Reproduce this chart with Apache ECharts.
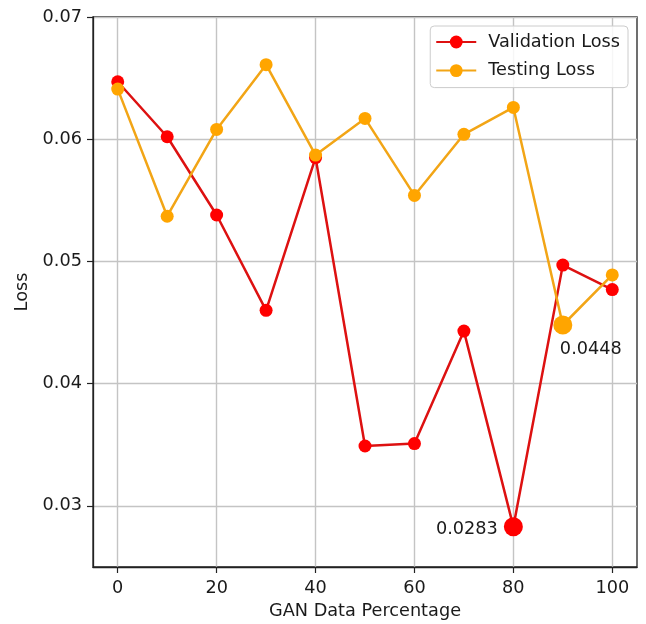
<!DOCTYPE html>
<html>
<head>
<meta charset="UTF-8">
<title>Loss</title>
<style>
  html, body { margin: 0; padding: 0; background: #fff; }
  #chart { width: 646px; height: 624px; }
</style>
</head>
<body>
<div id="chart"></div>
<script src="https://cdn.jsdelivr.net/npm/echarts@6/dist/echarts.min.js"></script>
<script>
// GAN data percentage on the x axis
var ganPercent = [0, 10, 20, 30, 40, 50, 60, 70, 80, 90, 100];
var validationLoss = [0.0647, 0.0602, 0.0538, 0.0460, 0.0585, 0.0349, 0.0351, 0.0443, 0.0283, 0.0497, 0.0477];
var testingLoss = [0.0641, 0.0537, 0.0608, 0.0661, 0.0587, 0.0617, 0.0554, 0.0604, 0.0626, 0.0448, 0.0489];
var xTicks = [0, 20, 40, 60, 80, 100];
var yTicks = [0.03, 0.04, 0.05, 0.06, 0.07];

var FONT = 'DejaVu Sans';
var FS = 17.7;
var TXT = '#1a1a1a';

function minIndex(arr) {
  var k = 0;
  for (var i = 1; i < arr.length; i++) if (arr[i] < arr[k]) k = i;
  return k;
}

// builds the points, the lowest one gets a big marker + value label
function buildData(values, labelPos, labelDist, labelOffset) {
  var k = minIndex(values);
  var res = [];
  for (var i = 0; i < values.length; i++) {
    if (i == k) {
      res.push({
        value: [ganPercent[i], values[i]],
        symbolSize: 19,
        label: {
          show: true,
          position: labelPos,
          distance: labelDist,
          offset: labelOffset,
          formatter: values[i].toFixed(4),
          fontFamily: FONT,
          fontSize: FS,
          color: TXT
        }
      });
    } else {
      res.push([ganPercent[i], values[i]]);
    }
  }
  return res;
}

var chart = echarts.init(document.getElementById('chart'));
chart.setOption({
  animation: false,
  grid: {
    left: 93, right: 9, top: 17, bottom: 57,
    show: true, borderColor: '#222', borderWidth: 1.3,
    outerBoundsMode: 'none'
  },
  legend: {
    right: 18, top: 26,
    orient: 'vertical',
    itemWidth: 40, itemHeight: 16, itemGap: 10.6,
    padding: [7, 8, 8, 5],
    backgroundColor: 'rgba(255,255,255,0.85)',
    borderColor: '#cccccc', borderWidth: 1, borderRadius: 4,
    textStyle: { fontFamily: FONT, fontSize: FS, color: TXT, padding: [0, 0, 0, 7] },
    data: ['Validation Loss', 'Testing Loss']
  },
  xAxis: {
    type: 'value',
    min: -5, max: 105,
    name: 'GAN Data Percentage',
    nameLocation: 'middle', nameGap: 34,
    nameTextStyle: { fontFamily: FONT, fontSize: FS, color: TXT },
    axisLine: { show: true, onZero: false, lineStyle: { color: '#222', width: 1.3 } },
    axisTick: { show: true, length: 6, customValues: xTicks, lineStyle: { color: '#222', width: 1.2 } },
    axisLabel: { customValues: xTicks, margin: 12, fontFamily: FONT, fontSize: FS, color: TXT },
    splitLine: { show: true, lineStyle: { color: '#c4c4c4', width: 1.4 } }
  },
  yAxis: {
    type: 'value',
    min: 0.025, max: 0.07,
    name: 'Loss',
    nameLocation: 'middle', nameGap: 62, nameRotate: 90,
    nameTextStyle: { fontFamily: FONT, fontSize: FS, color: TXT },
    axisLine: { show: true, onZero: false, lineStyle: { color: '#222', width: 1.3 } },
    axisTick: { show: true, length: 6, customValues: yTicks, lineStyle: { color: '#222', width: 1.2 } },
    axisLabel: {
      customValues: yTicks, margin: 11, fontFamily: FONT, fontSize: FS, color: TXT,
      formatter: function (v) { return v.toFixed(2); }
    },
    splitLine: { show: true, lineStyle: { color: '#c4c4c4', width: 1.4 } }
  },
  series: [
    {
      name: 'Validation Loss',
      type: 'line',
      symbol: 'circle', symbolSize: 13,
      itemStyle: { color: '#ff0000' },
      lineStyle: { color: '#dd1111', width: 2.5 },
      data: buildData(validationLoss, 'left', 6, [0, 3])
    },
    {
      name: 'Testing Loss',
      type: 'line',
      symbol: 'circle', symbolSize: 13,
      itemStyle: { color: '#ffa500' },
      lineStyle: { color: '#f2a516', width: 2.5 },
      data: buildData(testingLoss, 'bottom', 4, [28, 2])
    }
  ]
});
</script>
</body>
</html>
